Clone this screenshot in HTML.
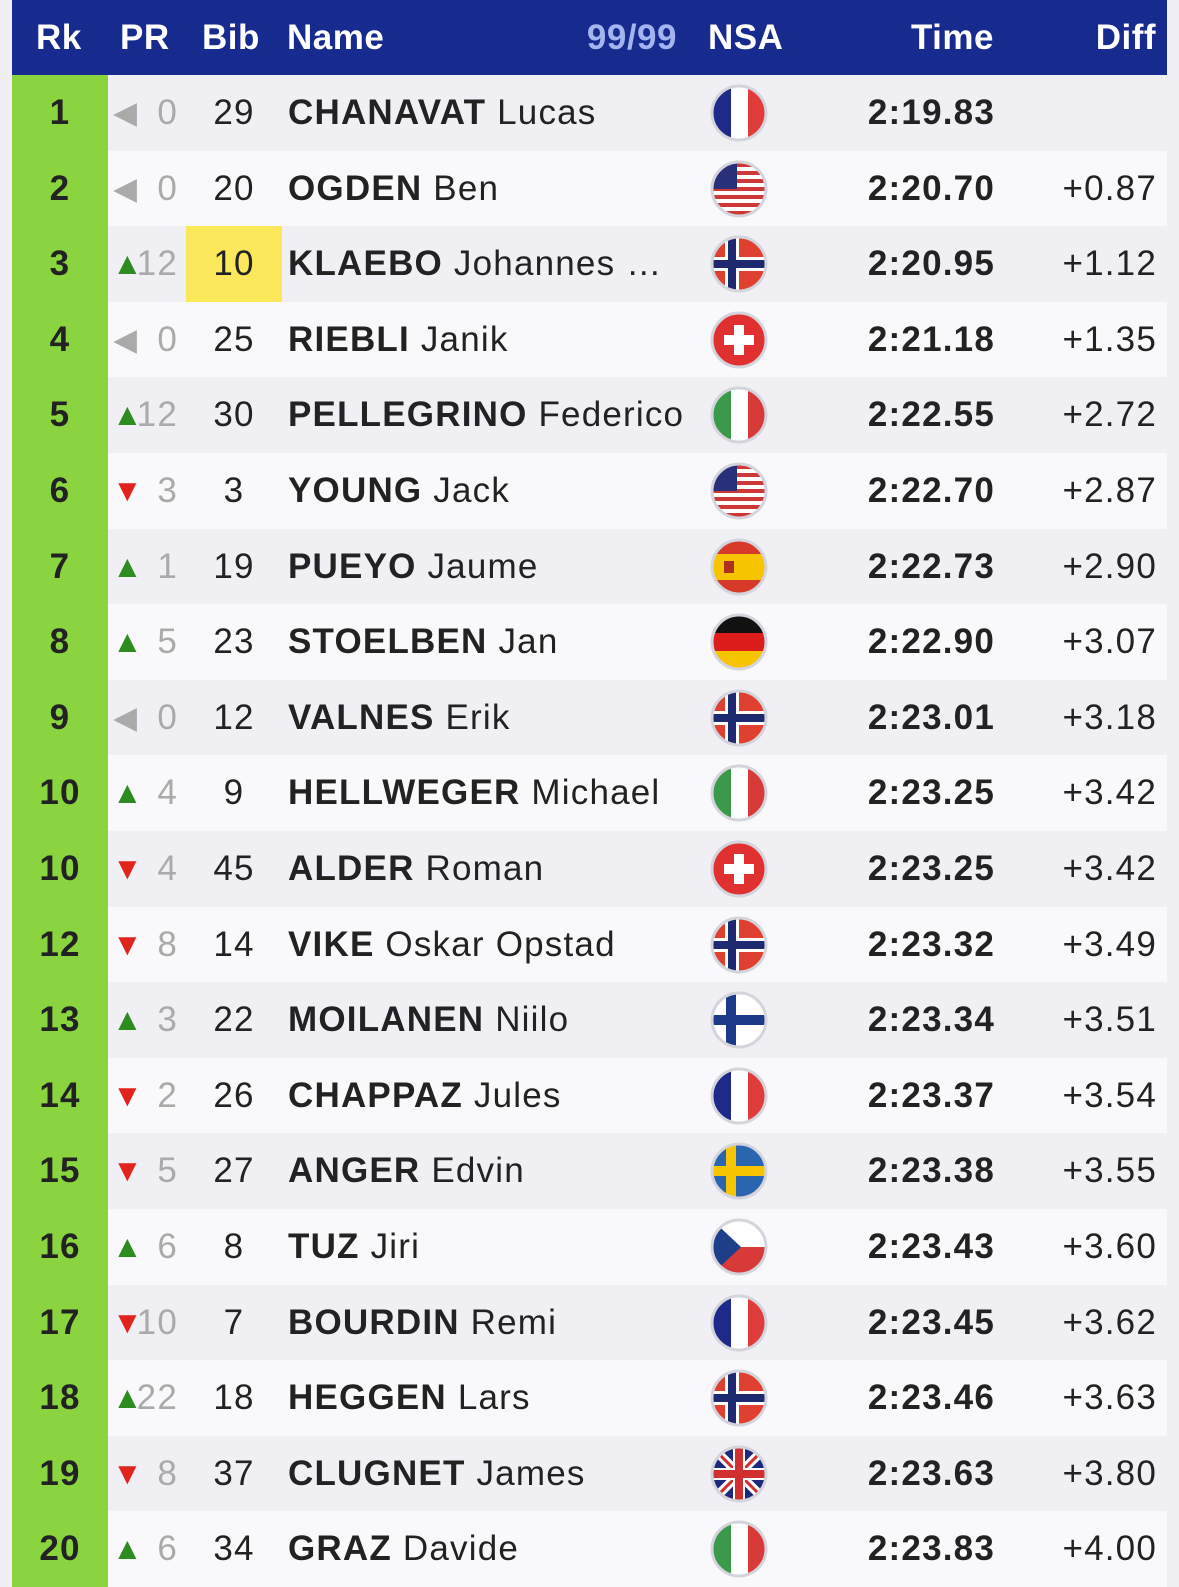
<!DOCTYPE html>
<html><head><meta charset="utf-8"><style>
*{margin:0;padding:0;box-sizing:border-box}
body{width:1179px;height:1585px;background:#efeff4;font-family:"Liberation Sans",Arial,sans-serif;position:relative;overflow:hidden;color:#222}
.tbl{position:absolute;left:12px;top:0;width:1155px}
.hdr{height:75px;background:#172b8f;position:relative;color:#fff;font-weight:bold;font-size:35px;letter-spacing:0.5px}
.hdr span,.row span{position:absolute;white-space:nowrap}
.hdr span{top:18px}
.row{height:75.6px;position:relative;font-size:35px;letter-spacing:1.2px}
.row:nth-child(even){background:#efeff4}
.row:nth-child(odd){background:#f9f9fb}
.rk{left:0;width:96px;height:100%;background:#8ad53f;font-weight:bold;text-align:center;line-height:75.6px}
.row span{line-height:75.6px}
.ar{left:100px;width:26px;text-align:center;font-size:31px;letter-spacing:0}
.pr{left:118px;width:48px;text-align:right;color:#aaa}
.bib{left:174px;width:96px;text-align:center}
.nm{left:276px}
.nm b{font-weight:bold}
.fl{left:697px;top:8px}
.tm{right:172px;font-weight:bold}
.df{right:10px}
.g{color:#aaa}.u{color:#2e8b22}.d{color:#e0231c}
.yl{background:#fbe75a}
</style></head><body>
<svg width="0" height="0" style="position:absolute">
<defs>
<clipPath id="c"><circle cx="30" cy="30" r="26"/></clipPath>
<symbol id="fr" viewBox="0 0 60 60"><g clip-path="url(#c)"><rect width="22" height="60" fill="#1d2a8a"/><rect x="22" width="17" height="60" fill="#fff"/><rect x="39" width="21" height="60" fill="#e03c3c"/></g><circle cx="30" cy="30" r="27" fill="none" stroke="#d4d4dc" stroke-width="3"/></symbol>
<symbol id="it" viewBox="0 0 60 60"><g clip-path="url(#c)"><rect width="22" height="60" fill="#3a9a4a"/><rect x="22" width="17" height="60" fill="#fff"/><rect x="39" width="21" height="60" fill="#d83a3a"/></g><circle cx="30" cy="30" r="27" fill="none" stroke="#d4d4dc" stroke-width="3"/></symbol>
<symbol id="de" viewBox="0 0 60 60"><g clip-path="url(#c)"><rect width="60" height="21" fill="#111"/><rect y="21" width="60" height="18" fill="#dd1c1c"/><rect y="39" width="60" height="21" fill="#f6c500"/></g><circle cx="30" cy="30" r="27" fill="none" stroke="#d4d4dc" stroke-width="3"/></symbol>
<symbol id="cz" viewBox="0 0 60 60"><g clip-path="url(#c)"><rect width="60" height="30" fill="#fff"/><rect y="30" width="60" height="30" fill="#d83a3a"/><path d="M0 0L32 30L0 60Z" fill="#1d3f8a"/></g><circle cx="30" cy="30" r="27" fill="none" stroke="#d4d4dc" stroke-width="3"/></symbol>
<symbol id="es" viewBox="0 0 60 60"><g clip-path="url(#c)"><rect width="60" height="60" fill="#d83a2a"/><rect y="17" width="60" height="26" fill="#f6c500"/><rect x="15" y="24" width="10" height="12" fill="#b03020"/></g><circle cx="30" cy="30" r="27" fill="none" stroke="#d4d4dc" stroke-width="3"/></symbol>
<symbol id="ch" viewBox="0 0 60 60"><g clip-path="url(#c)"><rect width="60" height="60" fill="#e03030"/><rect x="25" y="15" width="10" height="30" fill="#fff"/><rect x="15" y="25" width="30" height="10" fill="#fff"/></g><circle cx="30" cy="30" r="27" fill="none" stroke="#d4d4dc" stroke-width="3"/></symbol>
<symbol id="no" viewBox="0 0 60 60"><g clip-path="url(#c)"><rect width="60" height="60" fill="#e04030"/><rect x="16" width="14" height="60" fill="#fff"/><rect y="23" width="60" height="14" fill="#fff"/><rect x="19" width="8" height="60" fill="#1d2a70"/><rect y="26" width="60" height="8" fill="#1d2a70"/></g><circle cx="30" cy="30" r="27" fill="none" stroke="#d4d4dc" stroke-width="3"/></symbol>
<symbol id="fi" viewBox="0 0 60 60"><g clip-path="url(#c)"><rect width="60" height="60" fill="#fff"/><rect x="17" width="10" height="60" fill="#1d3a8a"/><rect y="25" width="60" height="10" fill="#1d3a8a"/></g><circle cx="30" cy="30" r="27" fill="none" stroke="#d4d4dc" stroke-width="3"/></symbol>
<symbol id="se" viewBox="0 0 60 60"><g clip-path="url(#c)"><rect width="60" height="60" fill="#2a66b0"/><rect x="17" width="10" height="60" fill="#f6c500"/><rect y="25" width="60" height="10" fill="#f6c500"/></g><circle cx="30" cy="30" r="27" fill="none" stroke="#d4d4dc" stroke-width="3"/></symbol>
<symbol id="us" viewBox="0 0 60 60"><g clip-path="url(#c)"><rect width="60" height="60" fill="#fff"/><g fill="#d03838"><rect y="4" width="60" height="4"/><rect y="12" width="60" height="4"/><rect y="20" width="60" height="4"/><rect y="28" width="60" height="4"/><rect y="36" width="60" height="4"/><rect y="44" width="60" height="4"/><rect y="52" width="60" height="4"/></g><rect width="28" height="30" fill="#2a2f7a"/></g><circle cx="30" cy="30" r="27" fill="none" stroke="#d4d4dc" stroke-width="3"/></symbol>
<symbol id="gb" viewBox="0 0 60 60"><g clip-path="url(#c)"><rect width="60" height="60" fill="#1d2a7a"/><path d="M0 0L60 60M60 0L0 60" stroke="#fff" stroke-width="9"/><path d="M0 0L60 60M60 0L0 60" stroke="#d03030" stroke-width="3"/><rect x="24" width="12" height="60" fill="#fff"/><rect y="24" width="60" height="12" fill="#fff"/><rect x="26" width="8" height="60" fill="#d03030"/><rect y="26" width="60" height="8" fill="#d03030"/></g><circle cx="30" cy="30" r="27" fill="none" stroke="#d4d4dc" stroke-width="3"/></symbol>
</defs></svg>
<div class="tbl">
<div class="hdr"><span style="left:24px">Rk</span><span style="left:108px">PR</span><span style="left:190px">Bib</span><span style="left:275px">Name</span><span style="right:490px;color:#a3b4ef">99/99</span><span style="left:696px">NSA</span><span style="right:173px">Time</span><span style="right:11px">Diff</span></div>
<div class="row"><span class="rk">1</span><span class="ar g">◀</span><span class="pr">0</span><span class="bib">29</span><span class="nm"><b>CHANAVAT</b> Lucas</span><svg class="fl" style="position:absolute" width="60" height="60"><use href="#fr"/></svg><span class="tm">2:19.83</span><span class="df"></span></div>
<div class="row"><span class="rk">2</span><span class="ar g">◀</span><span class="pr">0</span><span class="bib">20</span><span class="nm"><b>OGDEN</b> Ben</span><svg class="fl" style="position:absolute" width="60" height="60"><use href="#us"/></svg><span class="tm">2:20.70</span><span class="df">+0.87</span></div>
<div class="row"><span class="rk">3</span><span class="ar u">▲</span><span class="pr">12</span><span class="bib yl">10</span><span class="nm"><b>KLAEBO</b> Johannes …</span><svg class="fl" style="position:absolute" width="60" height="60"><use href="#no"/></svg><span class="tm">2:20.95</span><span class="df">+1.12</span></div>
<div class="row"><span class="rk">4</span><span class="ar g">◀</span><span class="pr">0</span><span class="bib">25</span><span class="nm"><b>RIEBLI</b> Janik</span><svg class="fl" style="position:absolute" width="60" height="60"><use href="#ch"/></svg><span class="tm">2:21.18</span><span class="df">+1.35</span></div>
<div class="row"><span class="rk">5</span><span class="ar u">▲</span><span class="pr">12</span><span class="bib">30</span><span class="nm"><b>PELLEGRINO</b> Federico</span><svg class="fl" style="position:absolute" width="60" height="60"><use href="#it"/></svg><span class="tm">2:22.55</span><span class="df">+2.72</span></div>
<div class="row"><span class="rk">6</span><span class="ar d">▼</span><span class="pr">3</span><span class="bib">3</span><span class="nm"><b>YOUNG</b> Jack</span><svg class="fl" style="position:absolute" width="60" height="60"><use href="#us"/></svg><span class="tm">2:22.70</span><span class="df">+2.87</span></div>
<div class="row"><span class="rk">7</span><span class="ar u">▲</span><span class="pr">1</span><span class="bib">19</span><span class="nm"><b>PUEYO</b> Jaume</span><svg class="fl" style="position:absolute" width="60" height="60"><use href="#es"/></svg><span class="tm">2:22.73</span><span class="df">+2.90</span></div>
<div class="row"><span class="rk">8</span><span class="ar u">▲</span><span class="pr">5</span><span class="bib">23</span><span class="nm"><b>STOELBEN</b> Jan</span><svg class="fl" style="position:absolute" width="60" height="60"><use href="#de"/></svg><span class="tm">2:22.90</span><span class="df">+3.07</span></div>
<div class="row"><span class="rk">9</span><span class="ar g">◀</span><span class="pr">0</span><span class="bib">12</span><span class="nm"><b>VALNES</b> Erik</span><svg class="fl" style="position:absolute" width="60" height="60"><use href="#no"/></svg><span class="tm">2:23.01</span><span class="df">+3.18</span></div>
<div class="row"><span class="rk">10</span><span class="ar u">▲</span><span class="pr">4</span><span class="bib">9</span><span class="nm"><b>HELLWEGER</b> Michael</span><svg class="fl" style="position:absolute" width="60" height="60"><use href="#it"/></svg><span class="tm">2:23.25</span><span class="df">+3.42</span></div>
<div class="row"><span class="rk">10</span><span class="ar d">▼</span><span class="pr">4</span><span class="bib">45</span><span class="nm"><b>ALDER</b> Roman</span><svg class="fl" style="position:absolute" width="60" height="60"><use href="#ch"/></svg><span class="tm">2:23.25</span><span class="df">+3.42</span></div>
<div class="row"><span class="rk">12</span><span class="ar d">▼</span><span class="pr">8</span><span class="bib">14</span><span class="nm"><b>VIKE</b> Oskar Opstad</span><svg class="fl" style="position:absolute" width="60" height="60"><use href="#no"/></svg><span class="tm">2:23.32</span><span class="df">+3.49</span></div>
<div class="row"><span class="rk">13</span><span class="ar u">▲</span><span class="pr">3</span><span class="bib">22</span><span class="nm"><b>MOILANEN</b> Niilo</span><svg class="fl" style="position:absolute" width="60" height="60"><use href="#fi"/></svg><span class="tm">2:23.34</span><span class="df">+3.51</span></div>
<div class="row"><span class="rk">14</span><span class="ar d">▼</span><span class="pr">2</span><span class="bib">26</span><span class="nm"><b>CHAPPAZ</b> Jules</span><svg class="fl" style="position:absolute" width="60" height="60"><use href="#fr"/></svg><span class="tm">2:23.37</span><span class="df">+3.54</span></div>
<div class="row"><span class="rk">15</span><span class="ar d">▼</span><span class="pr">5</span><span class="bib">27</span><span class="nm"><b>ANGER</b> Edvin</span><svg class="fl" style="position:absolute" width="60" height="60"><use href="#se"/></svg><span class="tm">2:23.38</span><span class="df">+3.55</span></div>
<div class="row"><span class="rk">16</span><span class="ar u">▲</span><span class="pr">6</span><span class="bib">8</span><span class="nm"><b>TUZ</b> Jiri</span><svg class="fl" style="position:absolute" width="60" height="60"><use href="#cz"/></svg><span class="tm">2:23.43</span><span class="df">+3.60</span></div>
<div class="row"><span class="rk">17</span><span class="ar d">▼</span><span class="pr">10</span><span class="bib">7</span><span class="nm"><b>BOURDIN</b> Remi</span><svg class="fl" style="position:absolute" width="60" height="60"><use href="#fr"/></svg><span class="tm">2:23.45</span><span class="df">+3.62</span></div>
<div class="row"><span class="rk">18</span><span class="ar u">▲</span><span class="pr">22</span><span class="bib">18</span><span class="nm"><b>HEGGEN</b> Lars</span><svg class="fl" style="position:absolute" width="60" height="60"><use href="#no"/></svg><span class="tm">2:23.46</span><span class="df">+3.63</span></div>
<div class="row"><span class="rk">19</span><span class="ar d">▼</span><span class="pr">8</span><span class="bib">37</span><span class="nm"><b>CLUGNET</b> James</span><svg class="fl" style="position:absolute" width="60" height="60"><use href="#gb"/></svg><span class="tm">2:23.63</span><span class="df">+3.80</span></div>
<div class="row"><span class="rk">20</span><span class="ar u">▲</span><span class="pr">6</span><span class="bib">34</span><span class="nm"><b>GRAZ</b> Davide</span><svg class="fl" style="position:absolute" width="60" height="60"><use href="#it"/></svg><span class="tm">2:23.83</span><span class="df">+4.00</span></div>
</div>
</body></html>
